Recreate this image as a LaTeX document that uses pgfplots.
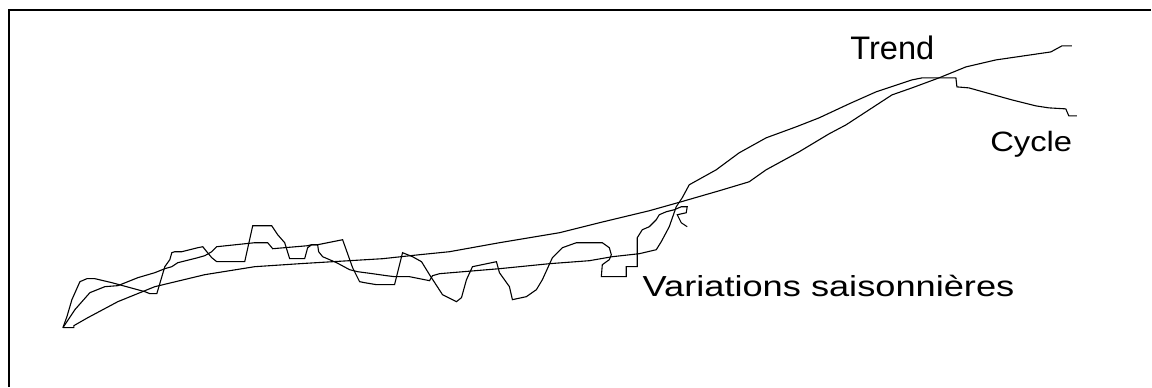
\documentclass[border=0pt]{standalone}
\usepackage{pgfplots}
\pgfplotsset{compat=1.18}
\usepackage{fontspec}
\setmainfont{Liberation Sans}
\begin{document}
\begin{tikzpicture}
\begin{axis}[
  width=576pt, height=193.5pt, scale only axis,
  xmin=0, xmax=1152, ymin=0, ymax=387, y dir=reverse,
  hide axis, clip=false,
]
\addplot[draw=none] coordinates {(0,0) (1152,387)};
% frame (top and left only)
\addplot[black, line width=1.3pt] coordinates {(9,387) (9,10) (1152,10)};
% Trend
\addplot[black, line width=0.55pt] coordinates {
(63,328) (74,328) (74,326) (88,318) (118,302) (155,287) (205,275) (255,267)
(300,264) (333,262) (383,259) (420,255) (450,252) (500,243) (560,233) (600,223)
(650,211) (682,202) (720,191) (750,182) (767,170) (800,152) (830,134) (847,125) (870,110)
(893,95) (913,88) (940,78) (967,67) (997,60) (1052,52) (1063,46) (1073,46)};
% Cycle
\addplot[black, line width=0.55pt] coordinates {
(63,328) (75,310) (90,293) (105,287) (118,286) (138,278) (155,273) (165,269)
(172,267) (178,263) (198,258) (205,256) (212,252) (217,247) (255,243) (268,243)
(273,249) (308,246) (312,245) (318,245) (319,252) (323,257) (337,263) (350,270)
(358,272) (373,274) (387,276) (395,277) (410,277) (430,281) (433,276) (440,274)
(500,269) (550,264) (590,261) (613,257) (640,254) (657,250) (662,242) (670,227)
(677,207) (683,198) (690,185) (717,170) (740,153) (767,138) (797,127) (820,118)
(850,104) (877,92) (913,80) (923,78) (957,78) (958,87) (970,88) (1013,100)
(1037,106) (1050,108) (1067,109) (1070,116) (1078,116)};
% Variations saisonnieres
\addplot[black, line width=0.55pt] coordinates {
(63,328) (67,317) (72,300) (80,282) (87,279) (95,279) (112,283) (145,292)
(150,294) (157,294) (165,267) (170,260) (172,253) (175,252) (182,252) (198,248)
(203,247) (207,252) (212,258) (217,262) (245,262) (253,226) (272,226) (278,235)
(285,243) (290,259) (305,259) (308,248) (312,245) (318,245) (343,240) (353,268)
(360,282) (365,283) (377,285) (395,285) (403,253) (413,257) (422,262) (430,275)
(443,295) (457,302) (462,298) (467,280) (473,267) (497,262) (500,273) (510,287)
(513,300) (527,297) (537,290) (543,280) (553,258) (563,248) (577,243) (603,243)
(610,248) (612,255) (610,260) (603,265) (602,277) (627,277) (627,267) (638,267)
(638,238) (643,230) (650,227) (657,220) (660,215) (667,212) (675,210) (682,207)
(688,207) (687,213) (678,215) (682,223) (688,227)};
\node[anchor=base west, inner sep=0pt, font=\fontsize{14.5}{17}\selectfont] at (axis cs:643,297) {\scalebox{1.25}[1]{Variations saisonnières}};
\node[anchor=base west, inner sep=0pt, font=\fontsize{16.3}{19}\selectfont] at (axis cs:851,60) {Trend};
\node[anchor=base west, inner sep=0pt, font=\fontsize{14}{17}\selectfont] at (axis cs:991,152) {\scalebox{1.17}[1]{Cycle}};
\end{axis}
\end{tikzpicture}
\end{document}
